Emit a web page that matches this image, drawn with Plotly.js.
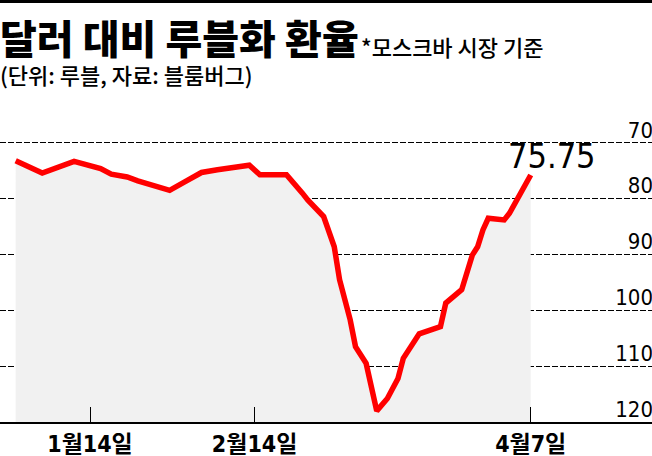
<!DOCTYPE html>
<html>
<head>
<meta charset="utf-8">
<script src="https://cdn.plot.ly/plotly-3.0.1.min.js"></script>
<style>
  html, body { margin: 0; padding: 0; background: #fff; }
  #wrap { position: relative; width: 652px; height: 456px; }
  #chart { width: 652px; height: 456px; }
  #topbar { position: absolute; left: 0; top: 0; width: 652px; height: 3px; background: #000; z-index: 5; }
</style>
</head>
<body>
<div id="wrap">
  <div id="chart"></div>
  <div id="topbar"></div>
</div>
<script>
// 달러 대비 루블화 환율 (모스크바 시장 기준)
var dates = ['2021-12-31','2022-01-05','2022-01-11','2022-01-16','2022-01-18','2022-01-21',
  '2022-01-23','2022-01-26','2022-01-29','2022-02-01','2022-02-04','2022-02-07','2022-02-10',
  '2022-02-13','2022-02-15','2022-02-20','2022-02-23','2022-02-24','2022-02-27','2022-03-01',
  '2022-03-02','2022-03-04','2022-03-05','2022-03-07','2022-03-09','2022-03-11','2022-03-13',
  '2022-03-14','2022-03-17','2022-03-21','2022-03-22','2022-03-25','2022-03-27','2022-03-28',
  '2022-03-29','2022-03-30','2022-04-02','2022-04-03','2022-04-07'];
var rubles = [73.2, 75.4, 73.3, 74.6, 75.6, 76.1,
  76.8, 77.7, 78.5, 76.9, 75.3, 74.8, 74.4,
  74.0, 75.7, 75.7, 79.0, 80.2, 83.2, 88.6,
  94.5, 101.7, 106.5, 109.5, 118.0, 115.8, 112.2,
  108.6, 104.2, 102.9, 98.7, 96.3, 90.1, 88.6,
  85.6, 83.5, 83.8, 82.6, 75.75];

var tickDates = ['2022-01-14', '2022-02-14', '2022-04-07'];
var tickLabels = ['1월14일', '2월14일', '4월7일'];
var yTicks = [70, 80, 90, 100, 110, 120];

var yBottom = 120;   // bottom of the reversed axis, the fill goes down to it

var NARROW = '"Liberation Sans Narrow", "DejaVu Sans Condensed", sans-serif';
var KR = '"Noto Sans CJK KR", sans-serif';

// pixel row -> paper y (plot area from 115 to 422)
function py(px) { return (422 - px) / 307; }

var base = {
  x: dates,
  y: dates.map(function () { return yBottom; }),
  mode: 'lines',
  line: {width: 0, color: 'rgba(0,0,0,0)'},
  hoverinfo: 'skip'
};

var rate = {
  x: dates,
  y: rubles,
  mode: 'lines',
  fill: 'tonexty',
  fillcolor: '#f1f1f1',
  line: {color: '#ff0000', width: 5.5}
};

var last = rubles.length - 1;

var layout = {
  width: 652,
  height: 456,
  margin: {l: 0, r: 0, t: 115, b: 34},
  paper_bgcolor: '#fff',
  plot_bgcolor: '#fff',
  showlegend: false,
  xaxis: {
    type: 'date',
    range: ['2021-12-28 01:10', '2022-04-29 20:10'],
    tickvals: tickDates,
    ticktext: tickLabels,
    showgrid: false,
    zeroline: false,
    showline: true,
    linecolor: '#000',
    linewidth: 2,
    ticks: 'inside',
    ticklen: 15,
    tickwidth: 1,
    tickcolor: '#000',
    tickfont: {family: NARROW + ', ' + KR, size: 23, color: '#000', weight: 'bold'}
  },
  yaxis: {
    range: [yBottom, 65],
    side: 'right',
    tickvals: yTicks,
    ticklabelposition: 'inside',
    ticklabeloverflow: 'allow',
    ticklabelshift: 13,
    ticklabelstandoff: -4,
    showgrid: true,
    gridcolor: '#000',
    gridwidth: 1,
    griddash: '6px,2px',
    zeroline: false,
    showline: false,
    ticks: '',
    tickfont: {family: NARROW, size: 22, color: '#000'}
  },
  annotations: [
    {xref: 'paper', yref: 'paper', x: 0, y: py(37), xanchor: 'left', yanchor: 'middle',
     xshift: -2, showarrow: false, text: '달러 대비 루블화 환율',
     font: {family: KR, size: 40, color: '#000', weight: 900}},
    {xref: 'paper', yref: 'paper', x: 359 / 652, y: py(46), xanchor: 'left', yanchor: 'middle',
     showarrow: false, text: '*모스크바 시장 기준',
     font: {family: KR, size: 22, color: '#000', weight: 500}},
    {xref: 'paper', yref: 'paper', x: 0, y: py(74), xanchor: 'left', yanchor: 'middle',
     xshift: -2, showarrow: false, text: '(단위: 루블, 자료: 블룸버그)',
     font: {family: KR, size: 22, color: '#000', weight: 500}},
    {xref: 'x', yref: 'y', x: dates[last], y: rubles[last], xanchor: 'center', yanchor: 'middle',
     xshift: 21, yshift: 19, showarrow: false, text: rubles[last].toFixed(2),
     font: {family: NARROW, size: 34, color: '#000'}}
  ]
};

Plotly.newPlot('chart', [base, rate], layout, {displayModeBar: false, staticPlot: true});
</script>
</body>
</html>
